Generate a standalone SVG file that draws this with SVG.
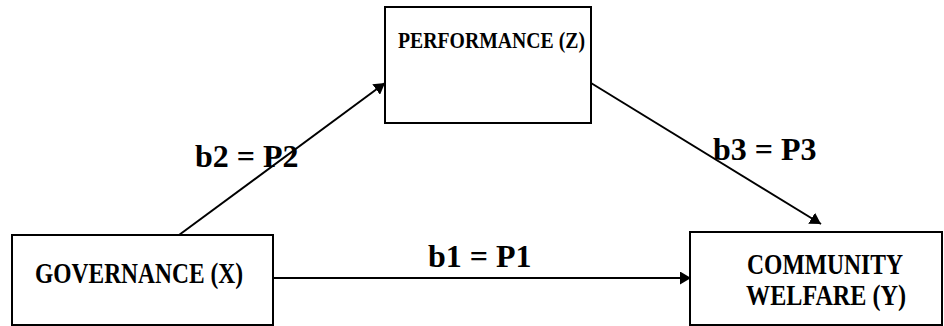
<svg xmlns="http://www.w3.org/2000/svg" width="944" height="326" viewBox="0 0 944 326">
<defs>
<marker id="arr" markerUnits="userSpaceOnUse" markerWidth="12" markerHeight="13" refX="11" refY="6.5" orient="auto">
<path d="M0,0 L11,6.5 L0,13 z" fill="#000"/>
</marker>
<style>
.box{fill:#fff;stroke:#000;stroke-width:2}
.t{font-family:"Liberation Serif","Times New Roman",serif;font-weight:bold;fill:#000}
.lbl{font-family:"Liberation Serif","Times New Roman",serif;font-weight:bold;font-size:32px;fill:#000}
.con{stroke:#000;stroke-width:2;fill:none;marker-end:url(#arr)}
</style>
</defs>
<rect width="944" height="326" fill="#fff"/>
<g id="connectors">
<line class="con" x1="179" y1="235" x2="385" y2="83"/>
<line class="con" x1="591" y1="83" x2="821" y2="224"/>
<line class="con" x1="273" y1="278" x2="691" y2="278"/>
</g>
<g id="performance">
<rect class="box" x="385" y="7" width="206" height="116"/>
<text class="t" x="398" y="48" font-size="24" textLength="187" lengthAdjust="spacingAndGlyphs">PERFORMANCE (Z)</text>
</g>
<g id="governance">
<rect class="box" x="12" y="235" width="261" height="90"/>
<text class="t" x="35" y="283" font-size="30" textLength="208" lengthAdjust="spacingAndGlyphs">GOVERNANCE (X)</text>
</g>
<g id="welfare">
<rect class="box" x="690" y="232" width="252" height="93"/>
<text class="t" x="747" y="274" font-size="29" textLength="156" lengthAdjust="spacingAndGlyphs">COMMUNITY</text>
<text class="t" x="746" y="305" font-size="29" textLength="160" lengthAdjust="spacingAndGlyphs">WELFARE (Y)</text>
</g>
<g id="labels">
<text class="lbl" x="195" y="167">b2 = P2</text>
<text class="lbl" x="713" y="160">b3 = P3</text>
<text class="lbl" x="428" y="267">b1 = P1</text>
</g>
</svg>
